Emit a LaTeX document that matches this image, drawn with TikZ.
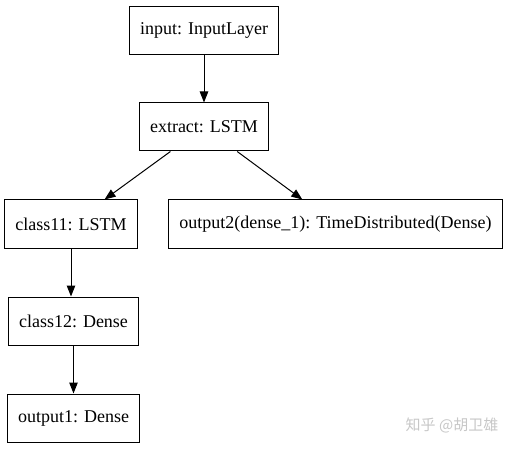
\documentclass[tikz,border=0pt]{standalone}
\usepackage{fontspec}
\setmainfont{Liberation Serif}
\newfontfamily\cjk{Noto Sans CJK SC}
\usetikzlibrary{arrows.meta}

\begin{document}
\begin{tikzpicture}
  [x=1pt,y=-1pt,
   layer/.style={rectangle,draw=black,line width=1pt,align=center,
                 minimum height=48pt,inner xsep=11pt,font=\fontsize{18}{20}\selectfont},
   flow/.style={line width=1pt,-{Triangle[length=11pt,width=8.5pt]}}]
  \useasboundingbox (0,0) rectangle (511,449);
  \node[layer] (input) at (204,30.5) {input: InputLayer};
  \node[layer] (extract) at (204,127) {extract: LSTM};
  \node[layer] (class11) at (71,224) {class11: LSTM};
  \node[layer] (output2) at (335.5,224) {output2(dense\_1): TimeDistributed(Dense)};
  \node[layer] (class12) at (73.5,321) {class12: Dense};
  \node[layer] (output1) at (73.5,418) {output1: Dense};
  \node[text=black!22,font=\cjk\fontsize{15}{17}\selectfont] (mark) at (452,425) {知乎 @胡卫雄};
  \draw[flow] (input) to (extract);
  \draw[flow] (extract) to (class11);
  \draw[flow] (extract) to (output2);
  \draw[flow] (class11.south) to (class11.south |- class12.north);
  \draw[flow] (class12) to (output1);
\end{tikzpicture}
\end{document}
